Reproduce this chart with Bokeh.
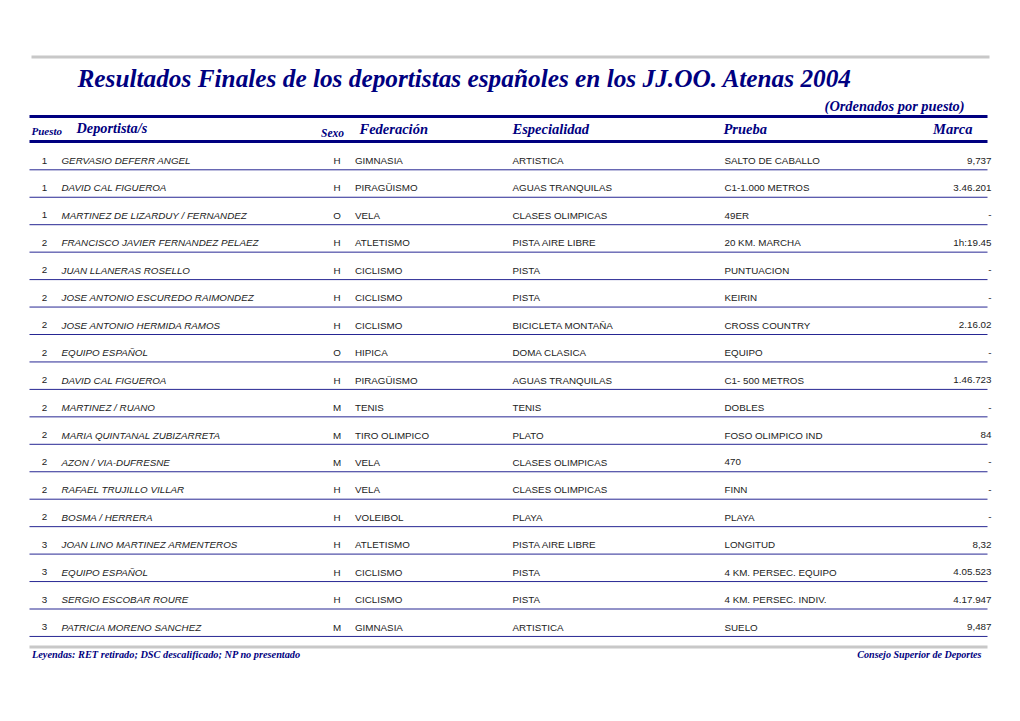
from bokeh.plotting import figure
from bokeh.models import Range1d, ColumnDataSource
from bokeh.core.properties import value
from bokeh.embed import file_html
from bokeh.resources import INLINE

titulo = "Resultados Finales de los deportistas españoles en los JJ.OO. Atenas 2004"
subtitulo = "(Ordenados por puesto)"
cabeceras = ["Puesto", "Deportista/s", "Sexo", "Federación", "Especialidad", "Prueba", "Marca"]
leyenda = "Leyendas: RET retirado; DSC descalificado; NP no presentado"
fuente = "Consejo Superior de Deportes"

puesto = ["1", "1", "1", "2", "2", "2", "2", "2", "2", "2", "2", "2", "2", "2", "3", "3", "3", "3"]
deportista = [
    "GERVASIO DEFERR ANGEL", "DAVID CAL FIGUEROA", "MARTINEZ DE LIZARDUY / FERNANDEZ",
    "FRANCISCO JAVIER FERNANDEZ PELAEZ", "JUAN LLANERAS ROSELLO", "JOSE ANTONIO ESCUREDO RAIMONDEZ",
    "JOSE ANTONIO HERMIDA RAMOS", "EQUIPO ESPAÑOL", "DAVID CAL FIGUEROA", "MARTINEZ / RUANO",
    "MARIA QUINTANAL ZUBIZARRETA", "AZON / VIA-DUFRESNE", "RAFAEL TRUJILLO VILLAR",
    "BOSMA / HERRERA", "JOAN LINO MARTINEZ ARMENTEROS", "EQUIPO ESPAÑOL",
    "SERGIO ESCOBAR ROURE", "PATRICIA MORENO SANCHEZ"]
sexo = ["H", "H", "O", "H", "H", "H", "H", "O", "H", "M", "M", "M", "H", "H", "H", "H", "H", "M"]
federacion = ["GIMNASIA", "PIRAGÜISMO", "VELA", "ATLETISMO", "CICLISMO", "CICLISMO", "CICLISMO",
              "HIPICA", "PIRAGÜISMO", "TENIS", "TIRO OLIMPICO", "VELA", "VELA", "VOLEIBOL",
              "ATLETISMO", "CICLISMO", "CICLISMO", "GIMNASIA"]
especialidad = ["ARTISTICA", "AGUAS TRANQUILAS", "CLASES OLIMPICAS", "PISTA AIRE LIBRE", "PISTA",
                "PISTA", "BICICLETA MONTAÑA", "DOMA CLASICA", "AGUAS TRANQUILAS", "TENIS", "PLATO",
                "CLASES OLIMPICAS", "CLASES OLIMPICAS", "PLAYA", "PISTA AIRE LIBRE", "PISTA",
                "PISTA", "ARTISTICA"]
prueba = ["SALTO DE CABALLO", "C1-1.000 METROS", "49ER", "20 KM. MARCHA", "PUNTUACION", "KEIRIN",
          "CROSS COUNTRY", "EQUIPO", "C1- 500 METROS", "DOBLES", "FOSO OLIMPICO IND", "470", "FINN",
          "PLAYA", "LONGITUD", "4 KM. PERSEC. EQUIPO", "4 KM. PERSEC. INDIV.", "SUELO"]
marca = ["9,737", "3.46.201", "-", "1h:19.45", "-", "-", "2.16.02", "-", "1.46.723", "-", "84",
         "-", "-", "-", "8,32", "4.05.523", "4.17.947", "9,487"]

NAVY = "#000080"
W, H = 1010, 710
p = figure(width=W, height=H, output_backend="svg", toolbar_location=None,
           x_range=Range1d(0, W), y_range=Range1d(H, 0),
           min_border=0, outline_line_color=None)
p.axis.visible = False
p.grid.visible = False
p.background_fill_color = "white"

SERIF = value("Liberation Serif")
SANS = value("Liberation Sans")

# rules
p.segment(x0=[31], y0=[56.5], x1=[989], y1=[56.5], line_color="#c8c8c8", line_width=3)
p.segment(x0=[29, 29], y0=[116, 141], x1=[987, 987], y1=[116, 141], line_color=NAVY, line_width=3)
p.segment(x0=[29], y0=[646.5], x1=[987], y1=[646.5], line_color="#c8c8c8", line_width=3)

# title
p.text(x=[77], y=[77], text=[titulo], text_font=SERIF, text_font_style="bold italic",
       text_font_size="25.3px", text_color=NAVY, text_baseline="middle")
p.text(x=[964], y=[105], text=[subtitulo], text_font=SERIF, text_font_style="bold italic",
       text_font_size="14.4px", text_color=NAVY, text_align="right", text_baseline="middle")

# headers
hx = [31, 76, 320.5, 359, 512, 723, 972]
hy = [130.7, 127.5, 132, 128.3, 128.3, 128.3, 128.3]
hs = ["11px", "14.3px", "11.5px", "14.5px", "14.5px", "14.5px", "14.5px"]
ha = ["left", "left", "left", "left", "left", "left", "right"]
for t, x, y, s, a in zip(cabeceras, hx, hy, hs, ha):
    p.text(x=[x], y=[y], text=[t], text_font=SERIF, text_font_style="bold italic",
           text_font_size=s, text_color=NAVY, text_align=a, text_baseline="middle")

# rows
n = len(puesto)
step = 27.45
line_y = [169.3 + i * step for i in range(n)]
mid_y = [ly - 9.3 for ly in line_y]
src = ColumnDataSource(dict(y=mid_y, ly=line_y, puesto=puesto, dep=deportista, sexo=sexo,
                            fed=federacion, esp=especialidad, pru=prueba, marca=marca))

common = dict(source=src, y="y", text_font=SANS, text_font_size="9.8px", text_color="#222222",
              text_baseline="middle")
p.text(x=44, text="puesto", text_align="center", **common)
p.text(x=61, text="dep", text_font_style="italic", **common)
p.text(x=336.5, text="sexo", text_align="center", **common)
p.text(x=354.5, text="fed", **common)
p.text(x=512, text="esp", **common)
p.text(x=724, text="pru", **common)
p.text(x=991, text="marca", text_align="right", **common)
p.segment(x0=29, x1=987, y0="ly", y1="ly", source=src, line_color=NAVY, line_width=1, line_alpha=0.85)

# footer
p.text(x=[31.5], y=[654.2], text=[leyenda], text_font=SERIF, text_font_style="bold italic",
       text_font_size="10.3px", text_color=NAVY, text_baseline="middle")
p.text(x=[981], y=[654.2], text=[fuente], text_font=SERIF, text_font_style="bold italic",
       text_font_size="10.1px", text_color=NAVY, text_align="right", text_baseline="middle")

open("out.html", "w").write(file_html(p, INLINE))
